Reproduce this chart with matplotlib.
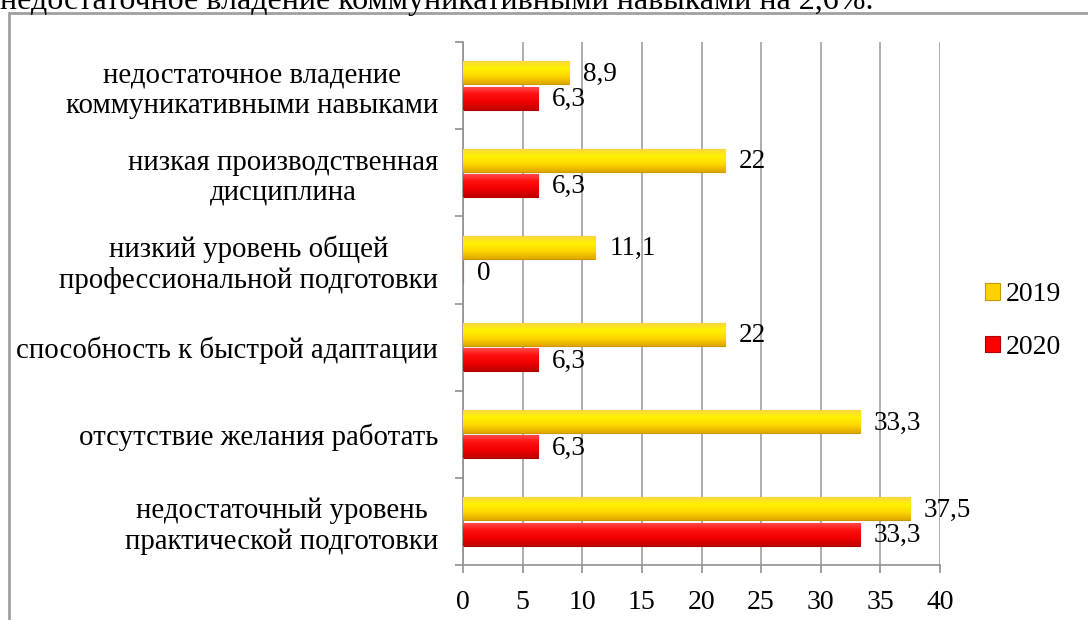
import numpy as np
import matplotlib
matplotlib.use('Agg')
import matplotlib.pyplot as plt
from matplotlib.colors import LinearSegmentedColormap
from matplotlib.patches import Rectangle

plt.rcParams['font.family'] = ['Liberation Serif', 'DejaVu Serif']

categories = [
    'недостаточное владение\nкоммуникативными навыками',
    'низкая производственная\nдисциплина',
    'низкий уровень общей\nпрофессиональной подготовки',
    'способность к быстрой адаптации',
    'отсутствие желания работать',
    'недостаточный уровень\nпрактической подготовки',
]
values_2019 = [8.9, 22, 11.1, 22, 33.3, 37.5]
values_2020 = [6.3, 6.3, 0, 6.3, 6.3, 33.3]
labels_2019 = ['8,9', '22', '11,1', '22', '33,3', '37,5']
labels_2020 = ['6,3', '6,3', '0', '6,3', '6,3', '33,3']
x_ticks = [0, 5, 10, 15, 20, 25, 30, 35, 40]
top_text = 'недостаточное владение коммуникативными навыками на 2,6%.'

yellow_cmap = LinearSegmentedColormap.from_list(
    'y', ['#f7d24a', '#fff200', '#ffd800', '#e0a800'])
red_cmap = LinearSegmentedColormap.from_list(
    'r', ['#ff5050', '#ff1010', '#f00000', '#c00000'])


def shade(ax, bars, cmap):
    # vertical gradient clipped to each bar
    grad = np.linspace(0, 1, 64).reshape(-1, 1)
    for b in bars:
        x0, y0 = b.get_x(), b.get_y()
        w, h = b.get_width(), b.get_height()
        if w <= 0:
            continue
        im = ax.imshow(grad, cmap=cmap, aspect='auto', zorder=3,
                       extent=[x0, x0 + w, y0, y0 + h], origin='lower')
        im.set_clip_path(b)


fig = plt.figure(figsize=(10.88, 6.2), dpi=100)
fig.patches.append(Rectangle((9 / 1088, -0.1), 1.2, 1 - 13 / 620 + 0.1,
                             transform=fig.transFigure, fill=False,
                             edgecolor='#a0a0a0', linewidth=2))
fig.text(0.0, 1 - 1 / 620, top_text, fontsize=23, va='center', ha='left')

ax = fig.add_axes([463 / 1088, 1 - 565 / 620, (940 - 463) / 1088, (565 - 42) / 620])

y = np.arange(len(categories))
h = 0.265
off = 0.145
b19 = ax.barh(y - off, values_2019, height=h, color='#ffd200',
              edgecolor='#c89a00', linewidth=0.8, zorder=2, label='2019')
b20 = ax.barh(y + off, values_2020, height=h, color='#ff0000',
              edgecolor='#b00000', linewidth=0.8, zorder=2, label='2020')
shade(ax, b19, yellow_cmap)
shade(ax, b20, red_cmap)

for i in range(len(categories)):
    ax.annotate(labels_2019[i], (values_2019[i], y[i] - off), xytext=(10, -1),
                textcoords='offset points', va='center', ha='left', fontsize=19.5, zorder=5)
    ax.annotate(labels_2020[i], (values_2020[i], y[i] + off), xytext=(10, -1),
                textcoords='offset points', va='center', ha='left', fontsize=19.5, zorder=5)

ax.set_xlim(0, 40)
ax.set_ylim(len(categories) - 0.5, -0.5)
ax.set_xticks(x_ticks)
ax.set_xticklabels([str(t) for t in x_ticks], fontsize=20)
ax.set_yticks(y)
ax.set_yticklabels(categories, fontsize=20.8, multialignment='center')
ax.tick_params(axis='y', length=0, pad=18)
ax.set_yticks(np.arange(-0.5, len(categories), 1), minor=True)
ax.tick_params(axis='y', which='minor', length=6, color='#909090', width=1.2)
ax.tick_params(axis='x', length=6, color='#909090', width=1.2, pad=12)

ax.grid(axis='x', color='#a0a0a0', linewidth=1.2, zorder=0)
ax.set_axisbelow(True)
for s in ['top', 'right']:
    ax.spines[s].set_visible(False)
for s in ['left', 'bottom']:
    ax.spines[s].set_color('#909090')
    ax.spines[s].set_linewidth(1.2)

leg = fig.legend(handles=[b19, b20], loc='center left',
                 bbox_to_anchor=(960 / 1088, 1 - 321 / 620), frameon=False,
                 fontsize=20, handlelength=0.55, handleheight=0.55,
                 handletextpad=0.2, labelspacing=1.0)

fig.savefig('out.png', dpi=100)
